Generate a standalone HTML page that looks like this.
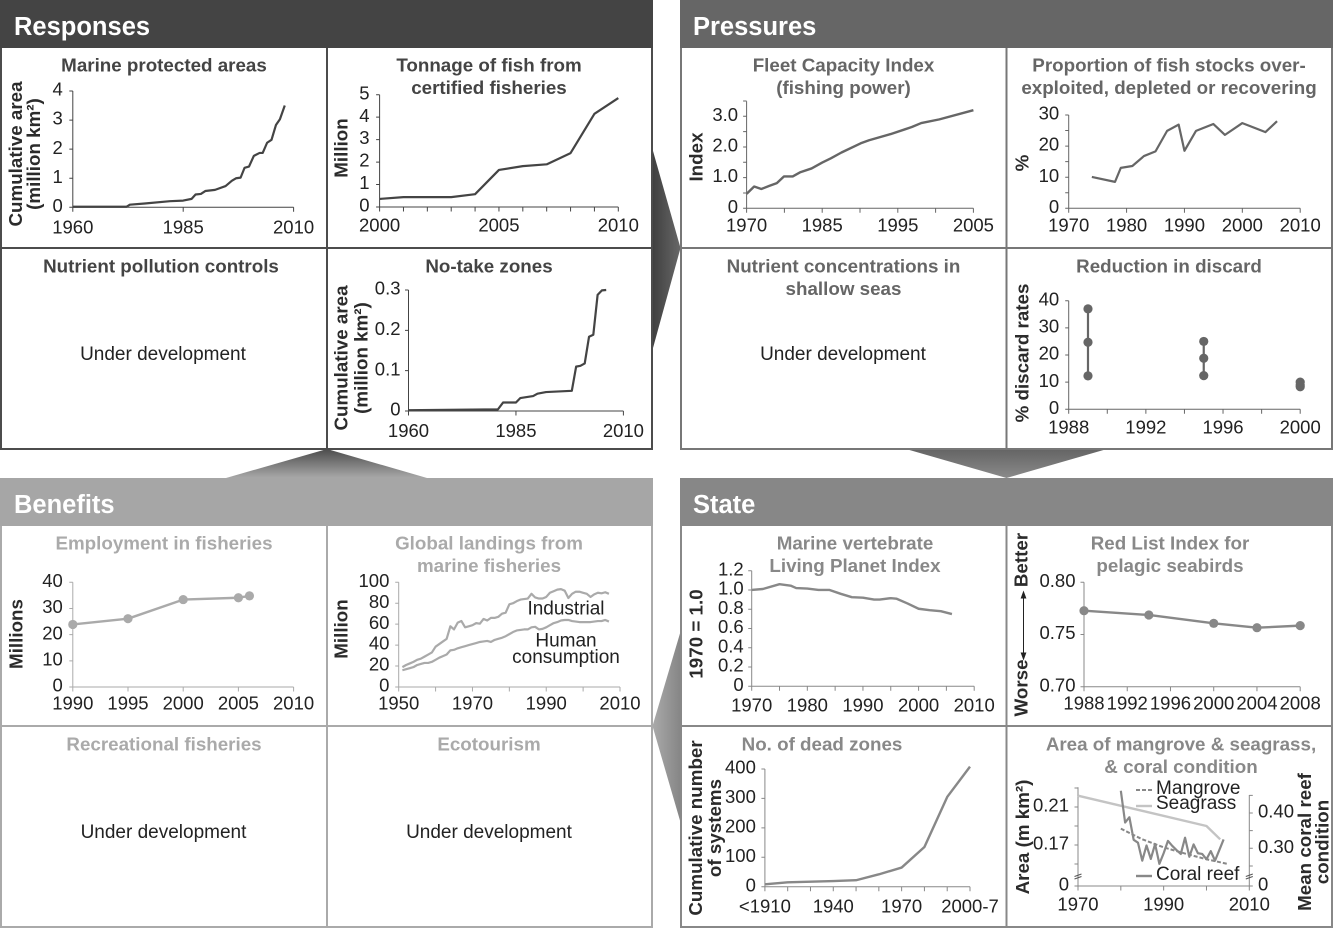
<!DOCTYPE html>
<html lang="en">
<head>
<meta charset="utf-8">
<title>Marine indicators: responses, pressures, state and benefits</title>
<style>
html,body{margin:0;padding:0;background:#fff;}
svg{display:block;}
text{font-family:"Liberation Sans",sans-serif;}
.h{font-size:25.5px;font-weight:bold;fill:#fff;}
.t{font-size:18.8px;font-weight:bold;text-anchor:middle;}
.u{font-size:19px;fill:#222;text-anchor:middle;}
.a{font-size:18.8px;font-weight:bold;fill:#2b2b2b;text-anchor:middle;dominant-baseline:central;}
.n{font-size:19px;fill:#222;}
.c1{fill:#444;}.c2{fill:#666;}.c3{fill:#aaa;}.c4{fill:#888;}
</style>
</head>
<body>
<svg id="figure" xmlns="http://www.w3.org/2000/svg" width="1333" height="928" viewBox="0 0 1333 928">
<defs>
<linearGradient id="gradRP" x1="0" x2="1" y1="0" y2="0"><stop offset="0" stop-color="#404040"/><stop offset="1" stop-color="#686868"/></linearGradient>
<linearGradient id="gradPS" x1="0" x2="0" y1="0" y2="1"><stop offset="0" stop-color="#646464"/><stop offset="1" stop-color="#8a8a8a"/></linearGradient>
<linearGradient id="gradSB" x1="1" x2="0" y1="0" y2="0"><stop offset="0" stop-color="#858585"/><stop offset="1" stop-color="#aaaaaa"/></linearGradient>
<linearGradient id="gradBR" x1="0" x2="0" y1="0" y2="1"><stop offset="0" stop-color="#4c4c4c"/><stop offset="1" stop-color="#a8a8a8"/></linearGradient>
</defs>

<polygon points="653,151 680.5,248 653,348" fill="url(#gradRP)"/>
<polygon points="906,449 1006.5,478 1107,449" fill="url(#gradPS)"/>
<polygon points="681,630 652.5,726 681,824" fill="url(#gradSB)"/>
<polygon points="226,478 327,449 427,478" fill="url(#gradBR)"/>

<g>
<rect x="0" y="0" width="653" height="48" fill="#444"/>
<text class="h" x="14" y="35">Responses</text>
<path d="M1 48V449.5M327 48V449.5M652 48V449.5M0 248H653M0 449H653" stroke="#4c4c4c" stroke-width="2" fill="none"/>
<text class="t c1" x="164" y="71.5">Marine protected areas</text>
<text class="t c1" x="489" y="71.5">Tonnage of fish from</text>
<text class="t c1" x="489" y="94">certified fisheries</text>
<text class="t c1" x="161" y="272.5">Nutrient pollution controls</text>
<text class="t c1" x="489" y="272.5">No-take zones</text>
<text class="u" x="163" y="360">Under development</text>
<text class="a" transform="translate(15.5,154) rotate(-90)">Cumulative area</text>
<text class="a" transform="translate(33.5,154) rotate(-90)">(million km²)</text>
<text class="a" transform="translate(341,148) rotate(-90)">Million</text>
<text class="a" transform="translate(341,358) rotate(-90)">Cumulative area</text>
<text class="a" transform="translate(361,358) rotate(-90)">(million km²)</text>
</g>

<g>
<rect x="680" y="0" width="653" height="48" fill="#666"/>
<text class="h" x="693" y="35">Pressures</text>
<path d="M681 48V449.5M1006.5 48V449.5M1332 48V449.5M680 248H1333M680 449H1333" stroke="#777" stroke-width="2" fill="none"/>
<text class="t c2" x="843.5" y="71.5">Fleet Capacity Index</text>
<text class="t c2" x="843.5" y="94">(fishing power)</text>
<text class="t c2" x="1169" y="71.5">Proportion of fish stocks over-</text>
<text class="t c2" x="1169" y="94">exploited, depleted or recovering</text>
<text class="t c2" x="843.5" y="272.5">Nutrient concentrations in</text>
<text class="t c2" x="843.5" y="295">shallow seas</text>
<text class="t c2" x="1169" y="272.5">Reduction in discard</text>
<text class="u" x="843" y="360">Under development</text>
<text class="a" transform="translate(696,157) rotate(-90)">Index</text>
<text class="a" transform="translate(1022,163) rotate(-90)">%</text>
<text class="a" transform="translate(1022,353) rotate(-90)">% discard rates</text>
</g>

<g>
<rect x="0" y="478" width="653" height="48" fill="#a6a6a6"/>
<text class="h" x="14" y="513">Benefits</text>
<path d="M1 526V928M327 526V928M652 526V928M0 726H653M0 927H653" stroke="#aaa" stroke-width="2" fill="none"/>
<text class="t c3" x="164" y="549.5">Employment in fisheries</text>
<text class="t c3" x="489" y="549.5">Global landings from</text>
<text class="t c3" x="489" y="572">marine fisheries</text>
<text class="t c3" x="164" y="750.5">Recreational fisheries</text>
<text class="t c3" x="489" y="750.5">Ecotourism</text>
<text class="u" x="163.5" y="838">Under development</text>
<text class="u" x="489" y="838">Under development</text>
<text class="a" transform="translate(16,634) rotate(-90)">Millions</text>
<text class="a" transform="translate(341,629) rotate(-90)">Million</text>
<text class="u" x="566" y="614.5">Industrial</text>
<text class="u" x="566" y="646.5">Human</text>
<text class="u" x="566" y="663">consumption</text>
</g>

<g>
<rect x="680" y="478" width="653" height="48" fill="#878787"/>
<text class="h" x="693" y="513">State</text>
<path d="M681 526V928M1006.5 526V928M1332 526V928M680 726H1333M680 927H1333" stroke="#888" stroke-width="2" fill="none"/>
<text class="t c4" x="855" y="549.5">Marine vertebrate</text>
<text class="t c4" x="855" y="572">Living Planet Index</text>
<text class="t c4" x="1170" y="549.5">Red List Index for</text>
<text class="t c4" x="1170" y="572">pelagic seabirds</text>
<text class="t c4" x="822" y="750.5">No. of dead zones</text>
<text class="t c4" x="1181" y="750.5">Area of mangrove &amp; seagrass,</text>
<text class="t c4" x="1181" y="773">&amp; coral condition</text>
<text class="a" transform="translate(696,634) rotate(-90)">1970 = 1.0</text>
<text class="a" transform="translate(1021,560) rotate(-90)">Better</text>
<text class="a" transform="translate(1021,688) rotate(-90)">Worse</text>
<path d="M1023.5 596V655M1021.3 598L1023.5 592L1025.7 598ZM1021.3 653L1023.5 659L1025.7 653Z" stroke="#222" stroke-width="1" fill="#222"/>
<text class="a" transform="translate(695.5,828) rotate(-90)">Cumulative number</text>
<text class="a" transform="translate(714.5,828) rotate(-90)">of systems</text>
<text class="a" transform="translate(1022.5,837) rotate(-90)">Area (m km²)</text>
<text class="a" transform="translate(1304.5,842) rotate(-90)">Mean coral reef</text>
<text class="a" transform="translate(1322,842) rotate(-90)">condition</text>
<line x1="1136" x2="1152" y1="790" y2="790" stroke="#888" stroke-width="2" stroke-dasharray="4 2"/>
<text class="n" x="1156" y="794">Mangrove</text>
<line x1="1136" x2="1152" y1="806" y2="806" stroke="#c4c4c4" stroke-width="2.4"/>
<text class="n" x="1156" y="809">Seagrass</text>
<line x1="1136" x2="1152" y1="876" y2="876" stroke="#888" stroke-width="2.4"/>
<text class="n" x="1156" y="880">Coral reef</text>
</g>

<g id="charts"></g>
</svg>

<script>
// ---- Responses ----
const mpaYears = [1960,1972.2,1972.9,1976.3,1982,1985,1986.9,1987.8,1989,1990,1992.2,1994.6,1996,1997,1998,1998.9,1999.9,2001,2002.3,2003,2004,2005,2006,2006.9,2008];
const mpaArea = [0.02,0.02,0.09,0.13,0.21,0.23,0.29,0.44,0.46,0.56,0.6,0.73,0.91,1.0,1.02,1.36,1.4,1.77,1.87,1.87,2.22,2.32,2.83,3.03,3.5];
const mpaXTicks = [1960,1985,2010];
const mpaXLabels = ['1960','1985','2010'];
const mpaYTicks = [0,1,2,3,4];
const mpaYLabels = ['0','1','2','3','4'];

const certifiedYears = [2000,2001,2002,2003,2004,2005,2006,2007,2008,2009,2010];
const certifiedTonnage = [0.36,0.44,0.44,0.44,0.57,1.65,1.82,1.9,2.4,4.15,4.85];
const certifiedXTicks = [2000,2001,2002,2003,2004,2005,2006,2007,2008,2009,2010];
const certifiedXLabels = ['2000','','','','','2005','','','','','2010'];
const certifiedYTicks = [0,1,2,3,4,5];
const certifiedYLabels = ['0','1','2','3','4','5'];

const noTakeYears = [1960,1980.8,1982,1985,1986,1989,1990,1992,1998,1999,2000,2001,2002,2003,2004,2005,2006];
const noTakeArea = [0.002,0.004,0.021,0.021,0.032,0.037,0.043,0.047,0.05,0.11,0.112,0.118,0.184,0.189,0.288,0.299,0.3];
const noTakeXTicks = [1960,1985,2010];
const noTakeXLabels = ['1960','1985','2010'];
const noTakeYTicks = [0,0.1,0.2,0.3];
const noTakeYLabels = ['0','0.1','0.2','0.3'];

// ---- Pressures ----
// The printed fleet axis is unevenly labelled, so x is read in tick-interval units.
const fleetTickUnits = [0,0.2,0.39,0.6,0.8,0.99,1.22,1.41,1.72,2.0,2.23,2.51,3.02,3.24,3.81,4.2,4.37,4.62,5.1,6.0];
const fleetIndex = [0.47,0.71,0.63,0.73,0.82,1.04,1.04,1.17,1.3,1.49,1.63,1.82,2.12,2.22,2.42,2.58,2.65,2.78,2.9,3.2];
const fleetXTicks = [0,1,2,3,4,5,6];
const fleetXLabels = ['1970','','1985','','1995','','2005'];
const fleetYTicks = [0,0.5,1,1.5,2,2.5,3,3.5];
const fleetYLabels = ['0','','1.0','','2.0','','3.0',''];

const stocksYears = [1974,1978,1979,1981,1983,1985,1987,1989,1990,1992,1995,1997,2000,2004,2006];
const stocksPercent = [10.1,8.5,13,13.6,16.8,18.3,24.9,26.9,18.5,24.9,27.1,23.6,27.4,24.5,28];
const stocksXTicks = [1970,1980,1990,2000,2010];
const stocksXLabels = ['1970','1980','1990','2000','2010'];
const stocksYTicks = [0,5,10,15,20,25,30];
const stocksYLabels = ['0','','10','','20','','30'];

const discardYears = [1989,1995,2000];
const discardHigh = [37,25,10];
const discardMid = [24.7,18.8,9];
const discardLow = [12.3,12.4,8.3];
const discardXTicks = [1988,1990,1992,1994,1996,1998,2000];
const discardXLabels = ['1988','','1992','','1996','','2000'];
const discardYTicks = [0,10,20,30,40];
const discardYLabels = ['0','10','20','30','40'];

// ---- Benefits ----
const employmentYears = [1990,1995,2000,2005,2006];
const employmentMillions = [23.9,26.1,33.4,34.1,34.8];
const employmentXTicks = [1990,1995,2000,2005,2010];
const employmentXLabels = ['1990','1995','2000','2005','2010'];
const employmentYTicks = [0,10,20,30,40];
const employmentYLabels = ['0','10','20','30','40'];

const landingsYears = [1951,1952,1953,1954,1955,1956,1957,1958,1959,1960,1961,1962,1963,1964,1965,1966,1967,1968,1969,1970,1971,1972,1973,1974,1975,1976,1977,1978,1979,1980,1981,1982,1983,1984,1985,1986,1987,1988,1989,1990,1991,1992,1993,1994,1995,1996,1997,1998,1999,2000,2001,2002,2003,2004,2005,2006,2007];
const landingsIndustrial = [19,21,22.5,24,26,27,29,31,33,38.5,41,43.5,46,58,55,61.5,63,57,58,59,61,60.5,65,63.5,66,66,67,70,71,79,80,82,83.5,84,84.5,89,85.5,84.5,84.5,86,90,91.5,93,93.5,92,85,89,91,91,90,89,86,88.5,90,89.5,90.5,89];
const landingsHuman = [16,17,18,19,21,22,23,23,24,26,28,29.5,31,35,35.5,37,38,39,40,41,42,43,43.5,44,43,45,46,47,48.5,50.5,52.5,54,54.5,55,55,57,57.5,55,55.5,57,59,61,62,63.5,64,64,63,62.5,62,62,62,62,62.5,63,63,64,62.5];
const landingsXTicks = [1950,1960,1970,1980,1990,2000,2010];
const landingsXLabels = ['1950','','1970','','1990','','2010'];
const landingsYTicks = [0,20,40,60,80,100];
const landingsYLabels = ['0','20','40','60','80','100'];

// ---- State ----
const lpiYears = [1970,1972,1975,1977,1978,1980,1982,1984,1986,1988,1990,1992,1993,1995,1996,1998,2000,2002,2003,2004,2006];
const lpiIndex = [1.0,1.01,1.06,1.045,1.02,1.015,1.0,1.0,0.96,0.925,0.92,0.9,0.9,0.915,0.91,0.86,0.805,0.79,0.785,0.78,0.75];
const lpiXTicks = [1970,1975,1980,1985,1990,1995,2000,2005,2010];
const lpiXLabels = ['1970','','1980','','1990','','2000','','2010'];
const lpiYTicks = [0,0.2,0.4,0.6,0.8,1.0,1.2];
const lpiYLabels = ['0','0.2','0.4','0.6','0.8','1.0','1.2'];

const redListYears = [1988,1994,2000,2004,2008];
const redListIndex = [0.7728,0.7687,0.7607,0.7565,0.7585];
const redListXTicks = [1988,1992,1996,2000,2004,2008];
const redListXLabels = ['1988','1992','1996','2000','2004','2008'];
const redListYTicks = [0.7,0.75,0.8];
const redListYLabels = ['0.70','0.75','0.80'];

// Dead-zone periods are equally spaced categories from <1910 to 2000-7.
const deadZonePeriods = [0,1,2,3,4,5,6,7,8,9];
const deadZoneSystems = [8,15,17,19,22,42,65,135,305,408];
const deadZoneXLabels = ['<1910','','','1940','','','1970','','','2000-7'];
const deadZoneYTicks = [0,100,200,300,400];
const deadZoneYLabels = ['0','100','200','300','400'];

const seagrassYears = [1970,2000,2003.2];
const seagrassArea = [0.2219,0.19,0.176];
const mangroveYears = [1980,1985,1990,1995,2000,2005];
const mangroveArea = [0.1872,0.176,0.1675,0.161,0.155,0.15];
const coralYears = [1980,1981,1982,1983,1984,1985,1986,1987,1988,1989,1990,1991,1992,1993,1994,1995,1996,1997,1998,1999,2000,2001,2002,2003,2004];
const coralCondition = [0.463,0.373,0.388,0.324,0.316,0.265,0.308,0.27,0.312,0.256,0.286,0.321,0.307,0.295,0.284,0.33,0.276,0.311,0.286,0.284,0.269,0.292,0.265,0.295,0.325];
const areaXTicks = [1970,1980,1990,2000,2010];
const areaXLabels = ['1970','','1990','','2010'];
const areaLeftTicks = [0,0.15,0.17,0.19,0.21,0.23];
const areaLeftLabels = ['0','','0.17','','0.21',''];
const areaRightTicks = [0,0.25,0.3,0.35,0.4,0.45];
const areaRightLabels = ['0','','0.30','','0.40',''];

const SVG_NS = 'http://www.w3.org/2000/svg';
const layer = document.getElementById('charts');
const TICK_FONT = 18.5;

function linear(d0, d1, r0, r1) {
  return function (v) { return r0 + (v - d0) * (r1 - r0) / (d1 - d0); };
}
function brokenScale(base, d0, d1, r0, r1) {
  const s = linear(d0, d1, r0, r1);
  return function (v) { return v === 0 ? base : s(v); };
}
function pathFrom(xs, ys, sx, sy) {
  return xs.map(function (x, i) { return (i ? 'L' : 'M') + sx(x).toFixed(2) + ' ' + sy(ys[i]).toFixed(2); }).join('');
}
function drawSeries(name, xs, ys, sx, sy, color, width, dash) {
  const path = document.createElementNS(SVG_NS, 'path');
  
  
  path.setAttribute('d', pathFrom(xs, ys, sx, sy));
  path.setAttribute('fill', 'none');
  path.setAttribute('stroke', color);
  path.setAttribute('stroke-width', width);
  path.setAttribute('stroke-linejoin', 'round');
  if (dash) { path.setAttribute('stroke-dasharray', dash); }
  layer.appendChild(path);
}
function drawDots(name, xs, ys, sx, sy, color) {
  xs.forEach(function (x, i) {
    const dot = document.createElementNS(SVG_NS, 'circle');
    
    
    dot.setAttribute('cx', sx(x).toFixed(2));
    dot.setAttribute('cy', sy(ys[i]).toFixed(2));
    dot.setAttribute('r', 4.6);
    dot.setAttribute('fill', color);
    layer.appendChild(dot);
  });
}
function drawXAxis(name, sx, x0, x1, y0, ticks, labels, color, labelDy) {
  const axis = document.createElementNS(SVG_NS, 'path');
  
  
  axis.setAttribute('d', 'M' + x0 + ' ' + y0 + 'H' + x1 + ticks.map(function (t) { return 'M' + sx(t).toFixed(2) + ' ' + y0 + 'v4.5'; }).join(''));
  axis.setAttribute('stroke', color);
  axis.setAttribute('stroke-width', 1);
  axis.setAttribute('fill', 'none');
  layer.appendChild(axis);
  ticks.forEach(function (t, i) {
    if (!labels[i]) { return; }
    const label = document.createElementNS(SVG_NS, 'text');
    
    
    label.setAttribute('x', sx(t).toFixed(2));
    label.setAttribute('y', y0 + labelDy);
    label.setAttribute('text-anchor', 'middle');
    label.setAttribute('font-size', TICK_FONT);
    label.setAttribute('fill', '#222');
    label.textContent = labels[i];
    layer.appendChild(label);
  });
}
function drawYAxis(name, sy, x0, yTop, yBottom, ticks, labels, color, side, gap) {
  const axis = document.createElementNS(SVG_NS, 'path');
  
  
  const dir = side === 'right' ? 3.5 : -3.5;
  axis.setAttribute('d', 'M' + x0 + ' ' + yBottom + 'V' + yTop + ticks.map(function (t) { return 'M' + x0 + ' ' + sy(t).toFixed(2) + 'h' + dir; }).join(''));
  axis.setAttribute('stroke', color);
  axis.setAttribute('stroke-width', 1);
  axis.setAttribute('fill', 'none');
  layer.appendChild(axis);
  ticks.forEach(function (t, i) {
    if (!labels[i]) { return; }
    const label = document.createElementNS(SVG_NS, 'text');
    
    
    label.setAttribute('x', side === 'right' ? x0 + gap : x0 - gap);
    label.setAttribute('y', (sy(t) + 4.6).toFixed(2));
    label.setAttribute('text-anchor', side === 'right' ? 'start' : 'end');
    label.setAttribute('font-size', TICK_FONT);
    label.setAttribute('fill', '#222');
    label.textContent = labels[i];
    layer.appendChild(label);
  });
}
function drawBreak(name, x, y, color) {
  const mark = document.createElementNS(SVG_NS, 'path');
  
  
  mark.setAttribute('d', 'M' + (x - 3.5) + ' ' + (y - 0.5) + 'l7 -2.5M' + (x - 3.5) + ' ' + (y + 2) + 'l7 -2.5');
  mark.setAttribute('stroke', color);
  mark.setAttribute('stroke-width', 1);
  mark.setAttribute('fill', 'none');
  layer.appendChild(mark);
}

// Marine protected areas
(function () {
  const c = '#444';
  const sx = linear(1960, 2010, 72.8, 293.6), sy = linear(0, 4, 207.3, 91);
  drawXAxis('mpa', sx, 72.8, 293.6, 207.3, mpaXTicks, mpaXLabels, c, 26);
  drawYAxis('mpa', sy, 72.8, 91, 207.3, mpaYTicks, mpaYLabels, c, 'left', 10);
  drawSeries('mpa-area', mpaYears, mpaArea, sx, sy, c, 2.2);
})();
// Tonnage of certified fish
(function () {
  const c = '#444';
  const sx = linear(2000, 2010, 379.6, 618.3), sy = linear(0, 5, 207, 94.7);
  drawXAxis('certified', sx, 379.6, 618.3, 207, certifiedXTicks, certifiedXLabels, c, 24.5);
  drawYAxis('certified', sy, 379.6, 94.7, 207, certifiedYTicks, certifiedYLabels, c, 'left', 10);
  drawSeries('certified-tonnage', certifiedYears, certifiedTonnage, sx, sy, c, 2.2);
})();
// No-take zones
(function () {
  const c = '#444';
  const sx = linear(1960, 2010, 408.5, 623.4), sy = linear(0, 0.3, 411, 290);
  drawXAxis('no-take', sx, 408.5, 623.4, 411, noTakeXTicks, noTakeXLabels, c, 26);
  drawYAxis('no-take', sy, 408.5, 290, 411, noTakeYTicks, noTakeYLabels, c, 'left', 8);
  drawSeries('no-take-area', noTakeYears, noTakeArea, sx, sy, c, 2.2);
})();
// Fleet capacity
(function () {
  const c = '#666';
  const sx = linear(0, 6, 746.6, 973.4), sy = linear(0, 3, 208.3, 116.3);
  drawXAxis('fleet', sx, 746.6, 973.4, 208.3, fleetXTicks, fleetXLabels, c, 23);
  drawYAxis('fleet', sy, 746.6, 101.3, 208.3, fleetYTicks, fleetYLabels, c, 'left', 8.5);
  drawSeries('fleet-index', fleetTickUnits, fleetIndex, sx, sy, c, 2.4);
})();
// Fish stocks
(function () {
  const c = '#666';
  const sx = linear(1970, 2010, 1068.7, 1300.2), sy = linear(0, 30, 208.3, 115);
  drawXAxis('stocks', sx, 1068.7, 1300.2, 208.3, stocksXTicks, stocksXLabels, c, 23);
  drawYAxis('stocks', sy, 1068.7, 115, 208.3, stocksYTicks, stocksYLabels, c, 'left', 9.5);
  drawSeries('stocks-percent', stocksYears, stocksPercent, sx, sy, c, 2.2);
})();
// Discard
(function () {
  const c = '#666';
  const sx = linear(1988, 2000, 1068.7, 1300.2), sy = linear(0, 40, 409.3, 300.7);
  drawXAxis('discard', sx, 1068.7, 1300.2, 409.3, discardXTicks, discardXLabels, c, 24);
  drawYAxis('discard', sy, 1068.7, 300.7, 409.3, discardYTicks, discardYLabels, c, 'left', 9.5);
  discardYears.forEach(function (year, i) {
    drawSeries('discard-range', [year, year], [discardHigh[i], discardLow[i]], sx, sy, c, 2.2);
  });
  drawDots('discard-high', discardYears, discardHigh, sx, sy, c);
  drawDots('discard-mid', discardYears, discardMid, sx, sy, c);
  drawDots('discard-low', discardYears, discardLow, sx, sy, c);
})();
// Employment
(function () {
  const c = '#aaa';
  const sx = linear(1990, 2010, 72.8, 293.6), sy = linear(0, 40, 687, 582.3);
  drawXAxis('employment', sx, 72.8, 293.6, 687, employmentXTicks, employmentXLabels, c, 22.5);
  drawYAxis('employment', sy, 72.8, 582.3, 687, employmentYTicks, employmentYLabels, c, 'left', 10);
  drawSeries('employment-millions', employmentYears, employmentMillions, sx, sy, c, 2.4);
  drawDots('employment', employmentYears, employmentMillions, sx, sy, c);
})();
// Landings
(function () {
  const c = '#aaa';
  const sx = linear(1950, 2010, 398.7, 620), sy = linear(0, 100, 687, 582.3);
  drawXAxis('landings', sx, 398.7, 620, 687, landingsXTicks, landingsXLabels, c, 22.5);
  drawYAxis('landings', sy, 398.7, 582.3, 687, landingsYTicks, landingsYLabels, c, 'left', 9.3);
  drawSeries('landings-industrial', landingsYears, landingsIndustrial, sx, sy, c, 2.2);
  drawSeries('landings-human', landingsYears, landingsHuman, sx, sy, c, 2.2);
})();
// Living Planet Index
(function () {
  const c = '#888';
  const sx = linear(1970, 2010, 751.7, 974.2), sy = linear(0, 1.2, 686.3, 570.7);
  drawXAxis('lpi', sx, 751.7, 974.2, 686.3, lpiXTicks, lpiXLabels, c, 25);
  drawYAxis('lpi', sy, 751.7, 570.7, 686.3, lpiYTicks, lpiYLabels, c, 'left', 8);
  drawSeries('lpi-index', lpiYears, lpiIndex, sx, sy, c, 2.4);
})();
// Red List
(function () {
  const c = '#888';
  const sx = linear(1988, 2008, 1084, 1300.2), sy = linear(0.7, 0.8, 686.7, 582.3);
  drawXAxis('red-list', sx, 1084, 1300.2, 686.7, redListXTicks, redListXLabels, c, 23);
  drawYAxis('red-list', sy, 1084, 582.3, 686.7, redListYTicks, redListYLabels, c, 'left', 8.5);
  drawSeries('red-list-index', redListYears, redListIndex, sx, sy, c, 2.4);
  drawDots('red-list', redListYears, redListIndex, sx, sy, c);
})();
// Dead zones
(function () {
  const c = '#888';
  const sx = linear(0, 9, 764.9, 970), sy = linear(0, 400, 886.7, 769);
  drawXAxis('dead-zones', sx, 764.9, 970, 886.7, deadZonePeriods, deadZoneXLabels, c, 26);
  drawYAxis('dead-zones', sy, 764.9, 769, 886.7, deadZoneYTicks, deadZoneYLabels, c, 'left', 9);
  drawSeries('dead-zones-systems', deadZonePeriods, deadZoneSystems, sx, sy, c, 2.4);
})();
// Mangrove, seagrass and coral
(function () {
  const c = '#888';
  const sx = linear(1970, 2010, 1078, 1249.3);
  const syLeft = brokenScale(886, 0.17, 0.21, 845, 807);
  const syRight = brokenScale(886, 0.3, 0.4, 848.3, 813);
  drawXAxis('area', sx, 1078, 1249.3, 886, areaXTicks, areaXLabels, c, 24.5);
  drawYAxis('area-left', syLeft, 1078, 787.3, 886, areaLeftTicks, areaLeftLabels, c, 'left', 9);
  drawYAxis('area-right', syRight, 1249.3, 795, 886, areaRightTicks, areaRightLabels, c, 'right', 8.7);
  drawBreak('area-left', 1078, 877, '#555');
  drawBreak('area-right', 1249.3, 877, '#555');
  drawSeries('seagrass', seagrassYears, seagrassArea, sx, syLeft, '#c4c4c4', 2.4);
  drawSeries('mangrove', mangroveYears, mangroveArea, sx, syLeft, c, 2, '4 2');
  drawSeries('coral-reef', coralYears, coralCondition, sx, syRight, c, 2.2);
})();
</script>
</body>
</html>
